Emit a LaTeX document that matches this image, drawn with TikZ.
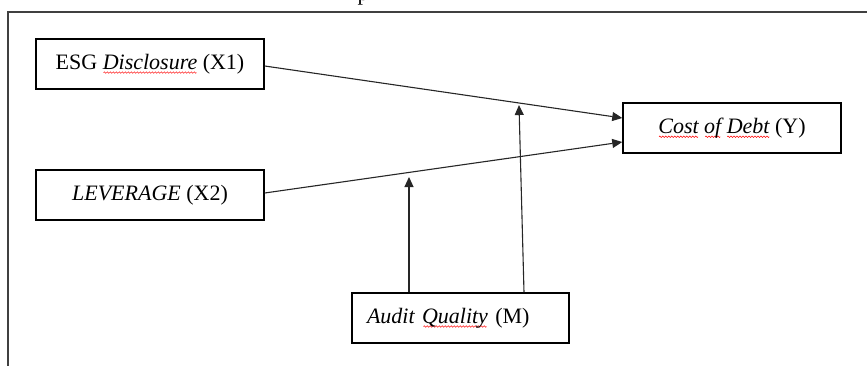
\documentclass[tikz,border=0pt]{standalone}
\usepackage{fontspec}
\setmainfont{Liberation Serif}
\usetikzlibrary{arrows.meta}
\newsavebox\bxWave
\newsavebox\bxWord
\newcommand\wavyword[1]{\leavevmode\sbox\bxWord{#1}\rlap{\lower3.3pt\hbox to\wd\bxWord{\cleaders\copy\bxWave\hfill}}\usebox\bxWord\relax}
\tikzset{
  box/.style={draw=black, line width=1.5pt, minimum height=50pt, inner sep=0pt,
              font=\fontsize{22}{26}\selectfont},
  conn/.style={draw=black!85, line width=1.1pt, -{Triangle[length=10pt,width=9pt]}},
  frameline/.style={draw=black!75, line width=2.2pt}
}
\begin{document}
\sbox\bxWave{\begin{pgfpicture}%
  \pgfpathrectangle{\pgfpointorigin}{\pgfpoint{3pt}{0pt}}\pgfusepath{use as bounding box}%
  \pgfpathmoveto{\pgfpointorigin}%
  \pgfpathcurveto{\pgfpoint{0.75pt}{1pt}}{\pgfpoint{0.75pt}{1pt}}{\pgfpoint{1.5pt}{0pt}}%
  \pgfpathcurveto{\pgfpoint{2.25pt}{-1pt}}{\pgfpoint{2.25pt}{-1pt}}{\pgfpoint{3pt}{0pt}}%
  \pgfsetcolor{red}\pgfsetlinewidth{0.5pt}\pgfusepath{stroke}%
\end{pgfpicture}}%
\begin{tikzpicture}[x=1pt,y=-1pt]
\useasboundingbox (0,0) rectangle (867,365);
% outer frame (partly cut)
\draw[frameline] (875,12) -- (8,12) -- (8,375);
% cut-off caption letter
\node[font=\fontsize{22}{26}\selectfont, anchor=base, inner sep=0pt] (cap) at (363,0.5) {p};
% nodes
\node[box, minimum width=228pt] (x1) at (150,64) {ESG \textit{\wavyword{Disclosure}} (X1)};
\node[box, minimum width=228pt] (x2) at (150,195) {\textit{LEVERAGE} (X2)};
\node[box, minimum width=218pt] (y) at (732,128) {\textit{\wavyword{Cost} \wavyword{of} \wavyword{Debt}} (Y)};
\node[box, minimum width=217pt, text width=187pt, align=left, inner xsep=15pt] (m) at (460.5,318) {\textit{Audit \wavyword{Quality}} (M)};
% free ends of moderation arrows
\coordinate (t1) at (409,177);
\coordinate (t2) at (519,105);
% connectors
\draw[conn] ([yshift=-2pt]x1.east) -- ([yshift=10pt]y.west);
\draw[conn] ([yshift=2pt]x2.east) -- ([yshift=-14pt]y.west);
\draw[conn] ([xshift=-51.5pt]m.north) -- (t1);
\draw[conn] ([xshift=63.5pt]m.north) -- (t2);
\end{tikzpicture}
\end{document}
